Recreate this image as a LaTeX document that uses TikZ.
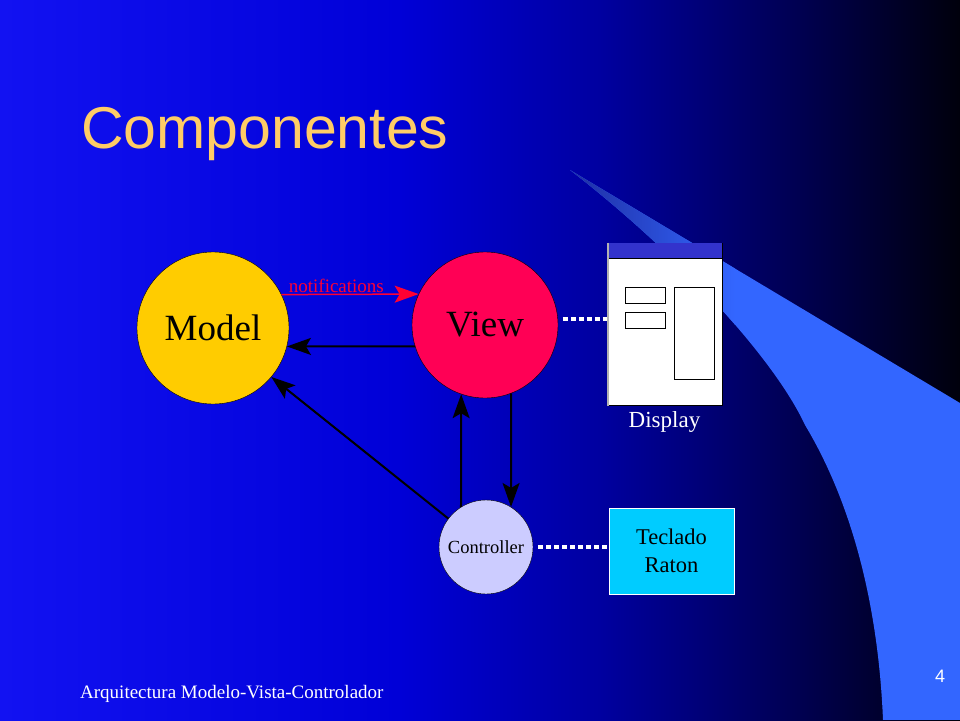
\documentclass[tikz,border=0pt]{standalone}
\usepackage{fontspec}
\setmainfont{Liberation Serif}
\newfontfamily\titlefont{Liberation Sans}
\usepackage{tikz}
\usetikzlibrary{arrows.meta,positioning,calc}
\definecolor{bgA}{RGB}{18,18,242}
\definecolor{bgB}{RGB}{0,0,215}
\definecolor{bgC}{RGB}{0,0,160}
\definecolor{bgD}{RGB}{0,0,80}
\definecolor{bgE}{RGB}{0,0,12}
\definecolor{swoosh}{RGB}{51,102,255}
\definecolor{swdim}{RGB}{30,45,160}
\definecolor{modelyellow}{RGB}{255,204,0}
\definecolor{viewred}{RGB}{255,0,85}
\definecolor{ctrlblue}{RGB}{204,204,255}
\definecolor{cyanbox}{RGB}{0,204,255}
\definecolor{titlegold}{RGB}{255,204,102}
\definecolor{barblue}{RGB}{51,51,204}
\definecolor{notifyred}{RGB}{255,0,51}
\pgfdeclarehorizontalshading{slidebg}{100bp}{color(0bp)=(bgA); color(25bp)=(bgA); color(45.8bp)=(bgB); color(56.2bp)=(bgC); color(66.7bp)=(bgD); color(75bp)=(bgE); color(100bp)=(bgE)}
\begin{document}
\begin{tikzpicture}[x=1pt,y=-1pt,main node/.style={circle,draw=black,thin,inner sep=0pt},link/.style={line width=2pt,-{Stealth[length=24pt,width=17pt,inset=5pt]}},wire/.style={white,line width=4pt,dash pattern=on 5pt off 3pt}]%
\useasboundingbox (0,0) rectangle (960,720);
\shade[shading=slidebg] (0,0) rectangle (960,720);
% swoosh, dim near its tip
\begin{scope}
\clip (570,170) -- (960,403) -- (960,720) -- (883,720) .. controls (878,600) and (850,500) .. (805,425) .. controls (775,360) and (680,255) .. cycle;
\fill[swoosh] (560,160) rectangle (960,720);
\shade[left color=swdim,right color=swoosh] (565,160) rectangle (735,330);
\end{scope}
\begin{scope}
\node[anchor=base west,inner sep=0pt,text=titlegold,font=\titlefont\fontsize{59}{60}\selectfont] (title) at (81,148) {Componentes};
\node[main node,fill=modelyellow,minimum size=152pt,font=\fontsize{37}{40}\selectfont] (model) at (213,328) {Model};
\node[main node,fill=viewred,minimum size=146pt,font=\fontsize{37}{40}\selectfont] (view) at (485,325) {View};
\node[main node,fill=ctrlblue,minimum size=94pt,font=\fontsize{18.5}{20}\selectfont] (ctrl) at (486,547) {Controller};
\node[draw=black,line width=1pt,fill=white,minimum width=115pt,minimum height=162pt,inner sep=0pt] (display) at (664.5,324) {};
\node[below=6pt of display,inner sep=0pt,text=white,font=\fontsize{23}{24}\selectfont] (displaylabel) {Display};
\node[draw=white,thin,fill=cyanbox,minimum width=125pt,minimum height=86pt,align=center,font=\fontsize{22.5}{28}\selectfont] (input) at (671.5,551) {Teclado\\Raton};
\node[anchor=base west,inner sep=0pt,text=white,font=\fontsize{19}{20}\selectfont] (footer) at (80,698) {Arquitectura Modelo-Vista-Controlador};
\node[anchor=base,inner sep=0pt,text=white,font=\titlefont\fontsize{18}{20}\selectfont] (pagenum) at (940,682) {4};
\end{scope}
% window parts
\fill[barblue] ([xshift=.5pt,yshift=-.5pt]display.north west) rectangle ([xshift=-.5pt,yshift=-16pt]display.north east);
\draw[line width=1pt] ([yshift=-16pt]display.north west) -- ([yshift=-16pt]display.north east);
\draw[gray!60,line width=1.5pt] ([xshift=1.5pt]display.north west) -- ([xshift=1.5pt]display.south west);
\draw[line width=1pt] (625,287) rectangle (665,303);
\draw[line width=1pt] (625,312) rectangle (665,328);
\draw[line width=1pt] (674,287) rectangle (714,379);
\begin{scope}
\draw[link,notifyred,line width=1.5pt] (model.26) -- node[pos=0.4,above=1pt,inner sep=0pt,font=\fontsize{19}{20}\selectfont]{notifications} (view.155);
\draw[link] (view.197) -- (model.-14);
\draw[link] (ctrl.143) -- (model.-40);
\draw[link] (ctrl.122) -- (view.-109);
\draw[link] (view.-69) -- (ctrl.58);
\draw[wire,shorten <=5pt] (view.5) -- (view.5 -| display.west);
\draw[wire,shorten <=5pt] (ctrl.east) -- (ctrl.east -| input.west);
\end{scope}
\end{tikzpicture}
\end{document}
